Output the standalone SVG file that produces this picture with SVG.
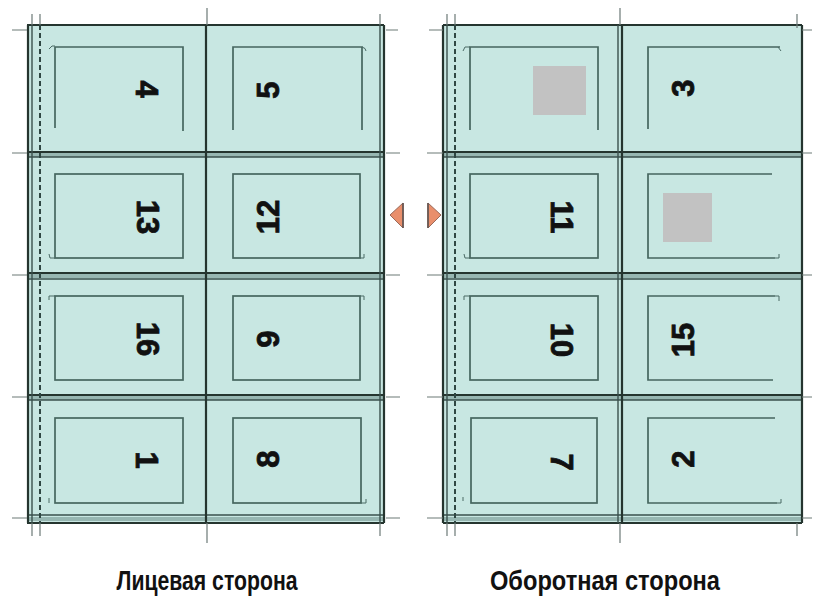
<svg xmlns="http://www.w3.org/2000/svg" width="816" height="610" viewBox="0 0 816 610">
<style>
.sheet{fill:#c8e7e2}
.edge{stroke:#25352f;stroke-width:2.2;fill:none}
.thin{stroke:#3a514d;stroke-width:1.4;fill:none}
.band{stroke:#6f8f8a;stroke-width:4;fill:none;opacity:.55}
.dash{stroke:#2f4743;stroke-width:2;stroke-dasharray:5 3;fill:none}
.crop{stroke:#6d7a77;stroke-width:1.2;fill:none}
.pg{stroke:#46665f;stroke-width:1.7;fill:none}
.tick{stroke:#4a6a65;stroke-width:1;fill:none}
.num{font-family:"Liberation Sans",Arial,sans-serif;font-weight:bold;font-size:31px;fill:#111;stroke:#111;stroke-width:0.8;text-anchor:middle}
.lbl{font-family:"Liberation Sans",Arial,sans-serif;font-weight:bold;font-size:28px;fill:#111;text-anchor:middle}
.gray{fill:#c2c2c2}
.tri{fill:#e98f6c;stroke:#9a6a5a;stroke-width:1}
.triedge{stroke:#6b5a55;stroke-width:1.8}
</style>
<rect width="816" height="610" fill="#ffffff"/>

<g id="sheet-front">
  <rect class="sheet" x="27" y="25" width="357" height="498"/>
  <line class="band" x1="27" y1="155" x2="384" y2="155"/>
  <line class="band" x1="27" y1="276" x2="384" y2="276"/>
  <line class="band" x1="27" y1="398" x2="384" y2="398"/>
  <line class="band" x1="27" y1="519" x2="384" y2="519"/>
  <line class="edge" x1="27" y1="25" x2="384" y2="25"/>
  <line class="edge" x1="27" y1="523" x2="384" y2="523"/>
  <line class="thin" x1="27" y1="515" x2="384" y2="515"/>
  <line class="edge" x1="27" y1="152" x2="384" y2="152"/>
  <line class="thin" x1="27" y1="157" x2="384" y2="157"/>
  <line class="edge" x1="27" y1="273" x2="384" y2="273"/>
  <line class="thin" x1="27" y1="279" x2="384" y2="279"/>
  <line class="edge" x1="27" y1="395" x2="384" y2="395"/>
  <line class="thin" x1="27" y1="400" x2="384" y2="400"/>
  <line class="edge" x1="28" y1="25" x2="28" y2="523"/>
  <line class="thin" x1="32" y1="25" x2="32" y2="523"/>
  <line class="dash" x1="40" y1="25" x2="40" y2="523"/>
  <line class="edge" x1="206" y1="25" x2="206" y2="523"/>
  <line class="thin" x1="380" y1="25" x2="380" y2="523"/>
  <line class="edge" x1="384" y1="25" x2="384" y2="523"/>
  <g class="crop">
    <path d="M12 30H27M12 153H27M12 275H27M12 397H27M12 518H27"/>
    <path d="M386 30H398M386 153H400M386 275H400M386 397H400M386 518H400"/>
    <path d="M32 14V25M40 14V25M207 8V25M380 14V25"/>
    <path d="M32 523V536M40 523V536M207 523V543M380 523V536"/>
  </g>
</g>

<g id="sheet-back">
  <rect class="sheet" x="443" y="25" width="359" height="498"/>
  <line class="band" x1="443" y1="155" x2="802" y2="155"/>
  <line class="band" x1="443" y1="276" x2="802" y2="276"/>
  <line class="band" x1="443" y1="398" x2="802" y2="398"/>
  <line class="band" x1="443" y1="519" x2="802" y2="519"/>
  <line class="edge" x1="443" y1="25" x2="802" y2="25"/>
  <line class="edge" x1="443" y1="523" x2="802" y2="523"/>
  <line class="thin" x1="443" y1="515" x2="802" y2="515"/>
  <line class="edge" x1="443" y1="152" x2="802" y2="152"/>
  <line class="thin" x1="443" y1="157" x2="802" y2="157"/>
  <line class="edge" x1="443" y1="273" x2="802" y2="273"/>
  <line class="thin" x1="443" y1="279" x2="802" y2="279"/>
  <line class="edge" x1="443" y1="395" x2="802" y2="395"/>
  <line class="thin" x1="443" y1="400" x2="802" y2="400"/>
  <line class="edge" x1="443" y1="25" x2="443" y2="523"/>
  <line class="thin" x1="447" y1="25" x2="447" y2="523"/>
  <line class="dash" x1="455" y1="25" x2="455" y2="523"/>
  <line class="thin" x1="618" y1="25" x2="618" y2="523"/>
  <line class="edge" x1="622" y1="25" x2="622" y2="523"/>
  <line class="edge" x1="802" y1="25" x2="802" y2="523"/>
  <g class="crop">
    <path d="M429 30H443M427 153H443M427 275H443M427 397H443M427 518H443"/>
    <path d="M802 30H812M802 153H812M802 275H812M802 397H812M802 518H812"/>
    <path d="M447 14V25M455 14V25M620 8V25M797 14V28"/>
    <path d="M447 523V536M455 523V536M620 523V543M797 523V536"/>
  </g>
</g>

<g id="triangles">
  <polygon class="tri" points="390,215 403,203 403,228"/>
  <line class="triedge" x1="403" y1="203" x2="403" y2="228"/>
  <polygon class="tri" points="441,215 428,203 428,228"/>
  <line class="triedge" x1="428" y1="203" x2="428" y2="228"/>
</g>

<!-- Front side pages -->
<g id="page-4">
  <path class="pg" d="M55 128V47H183V131"/>
  <path class="tick" d="M49 49L52 46H55"/>
  <text class="num" transform="translate(147,89) rotate(90)" dy="11">4</text>
</g>
<g id="page-5">
  <path class="pg" d="M233 130V47H362V130"/>
  <path class="tick" d="M362 47Q366 48 366 51"/>
  <text class="num" transform="translate(268,90) rotate(-90)" dy="11">5</text>
</g>
<g id="page-13">
  <rect class="pg" x="55" y="174" width="128" height="84"/>
  <path class="tick" d="M49 254L50 258H55"/>
  <text class="num" transform="translate(148,217) rotate(90)" dy="11">13</text>
</g>
<g id="page-12">
  <rect class="pg" x="233" y="174" width="127" height="84"/>
  <path class="tick" d="M360 258H364V254"/>
  <text class="num" transform="translate(268,217) rotate(-90)" dy="11">12</text>
</g>
<g id="page-16">
  <rect class="pg" x="55" y="296" width="128" height="84"/>
  <path class="tick" d="M49 300V296H55"/>
  <text class="num" transform="translate(148,339) rotate(90)" dy="11">16</text>
</g>
<g id="page-9">
  <rect class="pg" x="233" y="296" width="127" height="84"/>
  <path class="tick" d="M360 296H364V300"/>
  <text class="num" transform="translate(268,339) rotate(-90)" dy="11">9</text>
</g>
<g id="page-1">
  <rect class="pg" x="55" y="418" width="128" height="85"/>
  <path class="tick" d="M49 498V503"/>
  <text class="num" transform="translate(147,460) rotate(90)" dy="11">1</text>
</g>
<g id="page-8">
  <rect class="pg" x="233" y="418" width="128" height="85"/>
  <path class="tick" d="M361 503H366V499"/>
  <text class="num" transform="translate(268,459) rotate(-90)" dy="11">8</text>
</g>

<!-- Back side pages -->
<g id="page-blank-1">
  <path class="pg" d="M470 130V47H598V130"/>
  <path class="tick" d="M463 51L465 47H470"/>
  <rect class="gray" x="533" y="66" width="53" height="49"/>
</g>
<g id="page-3">
  <path class="pg" d="M648 129V47H780"/>
  <path class="tick" d="M778 47L781 51"/>
  <text class="num" transform="translate(683,88) rotate(-90)" dy="11">3</text>
</g>
<g id="page-11">
  <rect class="pg" x="470" y="174" width="128" height="84"/>
  <path class="tick" d="M464 254L465 258H470"/>
  <text class="num" transform="translate(562,217) rotate(90)" dy="11">11</text>
</g>
<g id="page-blank-2">
  <path class="pg" d="M772 174H648V258H775"/>
  <path class="tick" d="M775 258H779V254"/>
  <rect class="gray" x="663" y="193" width="49" height="49"/>
</g>
<g id="page-10">
  <rect class="pg" x="470" y="296" width="128" height="84"/>
  <path class="tick" d="M464 300V296H470"/>
  <text class="num" transform="translate(562,340) rotate(90)" dy="11">10</text>
</g>
<g id="page-15">
  <path class="pg" d="M775 296H648V380H773"/>
  <path class="tick" d="M775 296H779V301"/>
  <text class="num" transform="translate(683,340) rotate(-90)" dy="11">15</text>
</g>
<g id="page-7">
  <rect class="pg" x="471" y="418" width="126" height="85"/>
  <path class="tick" d="M463 497V501"/>
  <text class="num" transform="translate(562,462) rotate(90)" dy="11">7</text>
</g>
<g id="page-2">
  <path class="pg" d="M775 418H648V503H777"/>
  <path class="tick" d="M777 503H781V499"/>
  <text class="num" transform="translate(683,459) rotate(-90)" dy="11">2</text>
</g>

<g id="labels">
  <text class="lbl" x="207" y="590" textLength="181" lengthAdjust="spacingAndGlyphs">Лицевая сторона</text>
  <text class="lbl" x="605" y="590" textLength="230" lengthAdjust="spacingAndGlyphs">Оборотная сторона</text>
</g>
</svg>
